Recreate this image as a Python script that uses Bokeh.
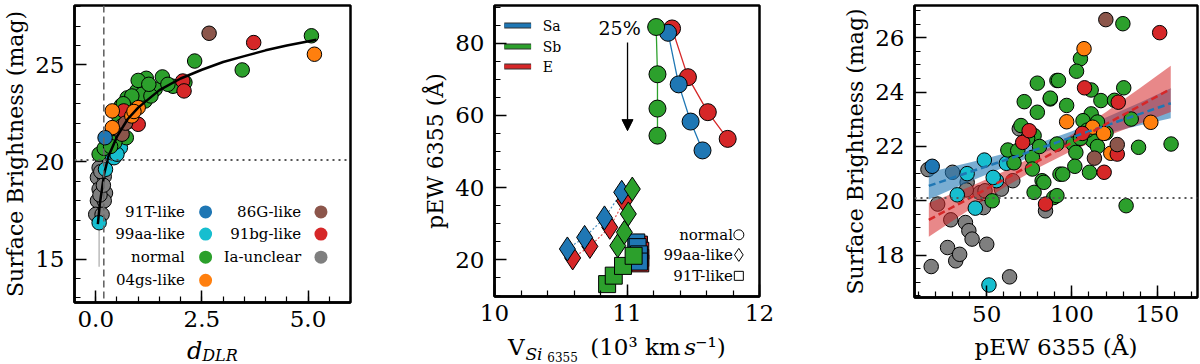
import numpy as np
from bokeh.plotting import figure
from bokeh.layouts import row, column
from bokeh.models import Range1d, FixedTicker, Arrow, NormalHead, Span
from bokeh.core.properties import value
from bokeh.embed import file_html
from bokeh.resources import INLINE

FONT = "DejaVu Serif"
COLORS = {"91T-like": "#1f77b4", "99aa-like": "#17becf", "normal": "#2ca02c",
          "04gs-like": "#ff7f0e", "86G-like": "#8c564b", "91bg-like": "#d62728",
          "Ia-unclear": "#7f7f7f"}

# ---------------- Panel 1: surface brightness vs d_DLR ----------------
p1_xticks = [0.0, 2.5, 5.0]
p1_yticks = [15, 20, 25]
p1_gray_x = [0.08, 0.04, 0.20, 0.08, 0.23, 0.04, 0.20, 0.00, 0.15, 0.10, 0.12, 0.18]
p1_gray_y = [19.7, 19.2, 19.25, 18.6, 18.4, 18.0, 18.0, 17.3, 17.3, 18.3, 19.5, 18.8]
p1_cyan_x = [0.08, 0.23, 0.43, 0.40, 0.58, 0.30, 0.50]
p1_cyan_y = [16.87, 19.62, 20.22, 20.82, 20.74, 20.5, 20.4]
p1_blue_x = [0.22]
p1_blue_y = [21.25]
p1_green_x = [0.08, 0.20, 0.72, 0.79, 0.74, 0.97, 1.16, 1.40, 1.19, 1.57, 1.82, 2.10, 2.33,
              3.45, 5.08, 0.60, 0.90, 0.50, 0.70, 1.10, 0.85, 0.55, 0.45, 0.65, 1.30, 1.00, 0.35,
              1.70, 1.25]
p1_green_y = [20.4, 20.7, 21.25, 22.1, 23.3, 23.66, 23.14, 23.75, 24.31, 24.38, 23.9, 24.1, 25.2,
              24.74, 26.5, 22.9, 23.0, 21.6, 22.5, 23.5, 23.4, 22.3, 21.0, 23.0, 23.4, 24.2, 20.8,
              24.0, 24.0]
p1_orange_x = [0.39, 1.00, 0.85, 0.39, 5.15, 0.90]
p1_orange_y = [22.63, 22.8, 22.37, 21.77, 25.55, 22.6]
p1_brown_x = [2.67, 0.62, 0.62, 0.70]
p1_brown_y = [26.63, 21.86, 21.43, 22.0]
p1_red_x = [2.05, 2.08, 0.66, 1.00, 3.72]
p1_red_y = [24.17, 23.66, 22.63, 21.94, 26.15]
fit_x = [0.05, 0.10, 0.20, 0.30, 0.50, 0.75, 1.0, 1.5, 2.0, 2.5, 3.0, 3.5, 4.0, 4.5, 5.2]
fit_y = [16.8, 17.9, 19.4, 20.3, 21.3, 22.2, 22.8, 23.7, 24.3, 24.75, 25.15, 25.45, 25.75, 26.0, 26.3]
err_x = [0.08, 0.08]
err_y = [17.0, 14.6]
dlr_cut = 0.19
sb_cut = 20.1
legend1_labels = [["91T-like", "99aa-like", "normal", "04gs-like"],
                  ["86G-like", "91bg-like", "Ia-unclear"]]

# ---------------- Panel 2: pEW vs velocity ----------------
p2_xticks = [10, 11, 12]
p2_yticks = [20, 40, 60, 80]
galaxy_types = ["E", "Sa", "Sb"]
g_colors = {"Sa": "#1f77b4", "Sb": "#2ca02c", "E": "#d62728"}
circ_x = {"Sa": [11.31, 11.39, 11.48, 11.57], "Sb": [11.22, 11.23, 11.23, 11.23],
          "E": [11.34, 11.46, 11.61, 11.76]}
circ_y = {"Sa": [82.9, 68.6, 58.3, 50.3], "Sb": [84.5, 71.4, 61.9, 54.4],
          "E": [84.1, 70.6, 60.9, 53.5]}
diam_x = {"Sa": [10.55, 10.68, 10.83, 10.96], "Sb": [10.93, 10.98, 11.01, 11.04],
          "E": [10.59, 10.72, 10.87, 10.98]}
diam_y = {"Sa": [23.0, 26.2, 31.6, 38.7], "Sb": [23.9, 27.6, 32.7, 39.6],
          "E": [20.5, 23.7, 29.0, 36.3]}
sq_x = {"Sa": [11.07, 11.08, 11.09, 11.09], "Sb": [10.85, 10.90, 10.97, 11.05],
        "E": [11.09, 11.10, 11.10, 11.10]}
sq_y = {"Sa": [24.8, 23.5, 21.5, 19.5], "Sb": [13.25, 15.6, 18.3, 21.1],
        "E": [24.2, 22.5, 20.5, 19.0]}

# ---------------- Panel 3: surface brightness vs pEW ----------------
p3_xticks = [50, 100, 150]
p3_yticks = [18, 20, 22, 24, 26]
p3_gray_x = [15.5, 21.2, 29.9, 38.5, 28.9, 37.5, 39.5, 41.4, 27.0, 31.8, 34.1, 50.0, 17.4, 63.4,
             48.1, 58.6, 65.3, 69.1, 84.5, 46.0, 38.0, 49.0]
p3_gray_y = [21.15, 19.88, 21.05, 20.68, 19.3, 19.2, 18.9, 18.59, 18.28, 17.79, 18.03, 18.4, 17.58,
             17.2, 19.75, 20.43, 20.74, 22.65, 19.63, 20.3, 20.4, 20.37]
p3_cyan_x = [38.5, 32.7, 51.3, 43.3, 48.6, 55.7, 53.8, 61.5]
p3_cyan_y = [21.0, 20.22, 16.9, 19.73, 21.5, 20.74, 20.86, 21.38]
p3_blue_x = [18.0]
p3_blue_y = [21.27]
p3_green_x = [53.2, 62.4, 68.2, 66.0, 70.1, 77.8, 72.0, 79.7, 79.7, 87.3, 91.2, 76.8, 76.8, 82.5,
              77.8, 89.3, 93.0, 91.2, 129.9, 105.0, 102.7, 92.1, 111.3, 130.4, 87.3, 96.9, 117.0,
              111.3, 106.5, 134.8, 112.2, 100.7, 102.3, 139.1, 158.2, 101.7, 94.6, 110.3, 83.5,
              91.2, 131.8, 105.0, 109.0, 115.0, 81.0, 74.0, 120.0, 125.0, 115.0]
p3_green_y = [20.0, 21.87, 21.85, 21.4, 22.77, 22.4, 23.65, 23.26, 24.33, 23.75, 24.43, 21.6, 21.17,
              20.74, 20.31, 20.12, 20.98, 22.09, 26.52, 25.23, 24.77, 24.43, 24.08, 24.16, 23.78,
              23.51, 23.69, 23.2, 22.95, 23.01, 22.21, 22.09, 21.78, 21.97, 22.09, 21.27, 20.98,
              21.05, 20.68, 20.19, 19.82, 22.3, 22.6, 22.0, 22.0, 22.3, 22.5, 23.7, 22.9]
p3_orange_x = [107.1, 96.9, 146.3, 112.2, 118.6, 122.8]
p3_orange_y = [25.6, 22.91, 22.89, 22.71, 22.48, 21.75]
p3_red_x = [71.1, 74.9, 84.5, 151.5, 107.4, 127.2, 106.1, 126.6, 118.9]
p3_red_y = [22.15, 22.58, 19.88, 26.19, 24.16, 23.63, 22.48, 21.72, 21.05]
p3_brown_x = [119.9, 126.6, 113.2]
p3_brown_y = [26.67, 22.07, 21.57]
fit3_x = [16, 40, 60, 80, 100, 120, 140, 158]
fitblue_y = [20.55, 21.06, 21.48, 21.91, 22.34, 22.77, 23.2, 23.59]
fitblue_lo = [20.05, 20.71, 21.23, 21.71, 22.12, 22.47, 22.78, 23.04]
fitblue_hi = [21.05, 21.41, 21.73, 22.11, 22.56, 23.07, 23.62, 24.14]
fitred_y = [19.3, 20.1, 20.78, 21.46, 22.14, 22.82, 23.5, 24.12]
fitred_lo = [18.68, 19.68, 20.48, 21.21, 21.84, 22.37, 22.85, 23.27]
fitred_hi = [19.92, 20.52, 21.08, 21.71, 22.44, 23.27, 24.15, 24.97]

TOP = 5
TOTAL_H = 364


def style(p, xmaj, xmin, ymaj, ymin):
    p.outline_line_color = "black"
    p.outline_line_width = 2.5
    p.grid.visible = False
    for ax in (p.xaxis[0], p.yaxis[0]):
        ax.major_tick_in = 12
        ax.major_tick_out = 0
        ax.minor_tick_in = 6
        ax.minor_tick_out = 0
        ax.major_tick_line_width = 1.5
        ax.minor_tick_line_width = 1.2
        ax.axis_line_width = 2.5
        ax.major_label_text_font = FONT
        ax.major_label_text_font_size = "23px"
        ax.major_label_text_color = "black"
        ax.axis_label_text_font = FONT
        ax.axis_label_text_font_size = "22px"
        ax.axis_label_text_font_style = "normal"
        ax.axis_label_text_color = "black"
        ax.axis_label_standoff = 4
    p.xaxis[0].major_label_standoff = 8
    p.yaxis[0].major_label_standoff = 10
    p.xaxis[0].ticker = FixedTicker(ticks=xmaj, minor_ticks=xmin)
    p.yaxis[0].ticker = FixedTicker(ticks=ymaj, minor_ticks=ymin)


def strip(p, left, right, width, height):
    # a bare strip below a panel that holds its composite x-axis title
    s = figure(width=width, height=height, x_range=p.x_range, y_range=Range1d(0, 1),
               min_border_left=left, min_border_right=right, min_border_top=0,
               min_border_bottom=0, x_axis_type=None, y_axis_type=None,
               output_backend="svg", toolbar_location=None)
    s.outline_line_color = None
    s.grid.visible = False
    return s


def fx(p, f):
    return p.x_range.start + f * (p.x_range.end - p.x_range.start)


def fy(p, f):
    return p.y_range.start + f * (p.y_range.end - p.y_range.start)


def dots(p, x, y, color, size=14.5):
    p.scatter(x, y, size=size, fill_color=color, line_color="black", line_width=1)


def stext(s, x, ypix, t, size, style="normal", align="center"):
    H = s.height
    s.text([x], [(TOTAL_H - ypix) / H], text=[t], text_font=value(FONT), text_font_style=style,
           text_font_size=size, text_align=align, text_baseline="middle", text_color="black")


# ---------- Figure 1 ----------
W1, L1, R1, FH1, B1 = 420, 70, 70, 297, 34
H1 = TOP + FH1 + B1
p1 = figure(width=W1, height=H1, x_range=Range1d(-0.5, 6.0),
            y_range=Range1d(12.76, 28.06), min_border_left=L1, min_border_right=R1,
            min_border_top=TOP, min_border_bottom=B1,
            output_backend="svg", toolbar_location=None)
style(p1, p1_xticks, list(np.arange(-0.5, 6.01, 0.5)), p1_yticks, list(range(13, 29)))
p1.xaxis[0].major_label_overrides = {0: "0.0", 2.5: "2.5", 5: "5.0"}
p1.yaxis[0].axis_label = "Surface Brightness (mag)"
p1.add_layout(Span(location=dlr_cut, dimension="height", line_color="#666666",
                   line_dash="7 4", line_width=1.6))
p1.add_layout(Span(location=sb_cut, dimension="width", line_color="#555555",
                   line_dash="2 4", line_width=2))
p1.line(err_x, err_y, line_color="#bbbbbb", line_width=1.5)
dots(p1, p1_gray_x, p1_gray_y, COLORS["Ia-unclear"])
dots(p1, p1_cyan_x, p1_cyan_y, COLORS["99aa-like"])
dots(p1, p1_green_x, p1_green_y, COLORS["normal"])
dots(p1, p1_red_x, p1_red_y, COLORS["91bg-like"])
dots(p1, p1_brown_x, p1_brown_y, COLORS["86G-like"])
dots(p1, p1_orange_x, p1_orange_y, COLORS["04gs-like"])
dots(p1, p1_blue_x, p1_blue_y, COLORS["91T-like"])
p1.line(fit_x, fit_y, line_color="black", line_width=2.5)
row_f = [0.305, 0.2305, 0.1525, 0.0746]
for col, (tf, mf) in zip(legend1_labels, [(0.40, 0.475), (0.821, 0.893)]):
    ys = [fy(p1, r) for r in row_f[:len(col)]]
    p1.text([fx(p1, tf)] * len(col), ys, text=col, text_font=value(FONT), text_font_size="15px",
            text_align="right", text_baseline="middle", text_color="black")
    p1.scatter([fx(p1, mf)] * len(col), ys, size=13, line_color=None,
               fill_color=[COLORS[c] for c in col])
s1 = strip(p1, L1, R1, W1, TOTAL_H - H1)
stext(s1, fx(p1, 0.435), 350, "d", "24px", "italic")
stext(s1, fx(p1, 0.527), 354.5, "DLR", "16px", "italic")

# ---------- Figure 2 ----------
W2, L2, R2, FH2, B2 = 420, 70, 81, 291, 35
H2 = TOP + FH2 + B2
p2 = figure(width=W2, height=H2, x_range=Range1d(10.0, 12.0),
            y_range=Range1d(9.82, 90.46), min_border_left=L2, min_border_right=R2,
            min_border_top=TOP, min_border_bottom=B2,
            output_backend="svg", toolbar_location=None)
style(p2, p2_xticks, list(np.round(np.arange(10.0, 12.01, 0.2), 1)), p2_yticks,
      list(range(10, 91, 5)))
p2.yaxis[0].axis_label = "pEW 6355 (Å)"
for g in galaxy_types:
    c = g_colors[g]
    p2.line(circ_x[g], circ_y[g], line_color=c, line_width=1.3)
    p2.line(diam_x[g], diam_y[g], line_color=c, line_width=1.2, line_dash="2 2", line_alpha=0.8)
for g in galaxy_types:
    c = g_colors[g]
    p2.scatter(circ_x[g], circ_y[g], size=17, fill_color=c, line_color="black", line_width=1)
    p2.scatter(diam_x[g], diam_y[g], marker="diamond", size=24, fill_color=c,
               line_color="black", line_width=1)
    p2.scatter(sq_x[g], sq_y[g], marker="square", size=17, fill_color=c,
               line_color="black", line_width=1)
leg_rows = [0.931, 0.859, 0.790]
for g, r in zip(["Sa", "Sb", "E"], leg_rows):
    p2.line([fx(p2, 0.037), fx(p2, 0.138)], [fy(p2, r)] * 2, line_color="#333333", line_width=6)
    p2.line([fx(p2, 0.037), fx(p2, 0.138)], [fy(p2, r)] * 2, line_color=g_colors[g], line_width=4)
p2.text([fx(p2, 0.182)] * 3, [fy(p2, r) for r in leg_rows], text=["Sa", "Sb", "E"],
        text_font=value(FONT), text_font_size="14px", text_align="left", text_baseline="middle")
p2.text([fx(p2, 0.472)], [fy(p2, 0.924)], text=["25%"], text_font=value(FONT),
        text_font_size="19px", text_align="center", text_baseline="middle")
p2.add_layout(Arrow(x_start=fx(p2, 0.502), y_start=fy(p2, 0.873), x_end=fx(p2, 0.502),
                    y_end=fy(p2, 0.570), line_width=1.3,
                    end=NormalHead(size=11, fill_color="black", line_color="black")))
mk_rows = [0.212, 0.143, 0.071]
p2.text([fx(p2, 0.90)] * 3, [fy(p2, r) for r in mk_rows], text=["normal", "99aa-like", "91T-like"],
        text_font=value(FONT), text_font_size="15px", text_align="right", text_baseline="middle")
p2.scatter([fx(p2, 0.922)] * 3, [fy(p2, r) for r in mk_rows], marker=["circle", "diamond", "square"],
           size=[10, 13, 9], fill_color=None, line_color="black", line_width=1)
s2 = strip(p2, L2, R2, W2, TOTAL_H - H2)
stext(s2, fx(p2, 0.082), 346.5, "V", "23px")
stext(s2, fx(p2, 0.149), 353.5, "Si", "17px", "italic")
stext(s2, fx(p2, 0.257), 356.5, "6355", "12px")
stext(s2, fx(p2, 0.361), 346.5, "(10³ km", "23px", align="left")
stext(s2, fx(p2, 0.716), 346.5, "s", "23px", "italic", align="left")
stext(s2, fx(p2, 0.758), 346.5, "⁻¹)", "23px", align="left")

# ---------- Figure 3 ----------
W3, L3, R3, FH3 = 359, 68, 2, 292
p3 = figure(width=W3, height=TOTAL_H, x_range=Range1d(7.6, 173.7),
            y_range=Range1d(16.44, 27.19), min_border_left=L3, min_border_right=R3,
            min_border_top=TOP, min_border_bottom=TOTAL_H - TOP - FH3, output_backend="svg",
            toolbar_location=None)
style(p3, p3_xticks, list(range(10, 171, 10)), p3_yticks, list(np.arange(16.5, 27.01, 0.5)))
p3.yaxis[0].axis_label = "Surface Brightness (mag)"
p3.xaxis[0].axis_label = "pEW 6355 (Å)"
p3.xaxis[0].axis_label_text_font_size = "23px"
p3.xaxis[0].axis_label_standoff = 9
p3.add_layout(Span(location=sb_cut, dimension="width", line_color="#555555",
                   line_dash="2 4", line_width=2))
dots(p3, p3_gray_x, p3_gray_y, COLORS["Ia-unclear"])
p3.varea(fit3_x, fitblue_lo, fitblue_hi, fill_color="#1f77b4", fill_alpha=0.6)
p3.varea(fit3_x, fitred_lo, fitred_hi, fill_color="#d62728", fill_alpha=0.55)
dots(p3, p3_cyan_x, p3_cyan_y, COLORS["99aa-like"])
dots(p3, p3_blue_x, p3_blue_y, COLORS["91T-like"])
dots(p3, p3_green_x, p3_green_y, COLORS["normal"])
dots(p3, p3_orange_x, p3_orange_y, COLORS["04gs-like"])
dots(p3, p3_red_x, p3_red_y, COLORS["91bg-like"])
dots(p3, p3_brown_x, p3_brown_y, COLORS["86G-like"])
p3.line(fit3_x, fitblue_y, line_color="#1f77b4", line_width=2.5, line_dash="7 4")
p3.line(fit3_x, fitred_y, line_color="#d62728", line_width=2.5, line_dash="7 4")

layout = row(column(p1, s1), column(p2, s2), p3)
open("out.html", "w").write(file_html(layout, INLINE))
